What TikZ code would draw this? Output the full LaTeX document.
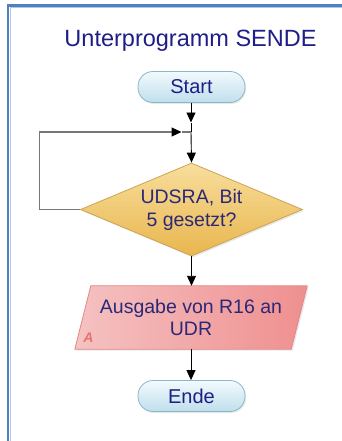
\documentclass[tikz,border=0pt]{standalone}
\usepackage{fontspec}
\setmainfont{Liberation Sans}
\usetikzlibrary{shapes.geometric,arrows.meta,shadows}

\definecolor{frameblue}{HTML}{4F81BD}
\definecolor{framelight}{HTML}{AFC8EA}
\definecolor{titleink}{HTML}{1E1E86}
\definecolor{bodyink}{HTML}{2C2878}
\definecolor{termtop}{HTML}{F2FAFD}
\definecolor{termbot}{HTML}{BFDFEC}
\definecolor{termedge}{HTML}{8DB6CB}
\definecolor{dectop}{HTML}{F8DE9C}
\definecolor{decbot}{HTML}{E8B64E}
\definecolor{decedge}{HTML}{CDA352}
\definecolor{iolight}{HTML}{F5C2C2}
\definecolor{iodark}{HTML}{EF8F8F}
\definecolor{ioedge}{HTML}{E58585}
\definecolor{ioletter}{HTML}{E67272}
\definecolor{loopgray}{HTML}{767676}

\pgfdeclarelayer{background}
\pgfsetlayers{background,main}

\tikzset{
  tip/.tip={Triangle[width=9pt,length=10pt,color=black]},
  terminal/.style={rectangle, rounded corners=15pt, minimum width=107pt,
    minimum height=31pt, inner sep=0pt, draw=termedge, line width=0.8pt,
    top color=termtop, bottom color=termbot, text=titleink,
    font=\fontsize{20}{24}\selectfont,
    drop shadow={opacity=0.18, shadow xshift=1pt, shadow yshift=-1.5pt}},
  decision/.style={diamond, aspect=2.4, inner sep=0pt, minimum width=222pt,
    minimum height=93pt, draw=decedge, line width=0.8pt,
    top color=dectop, bottom color=decbot, text=bodyink, align=center,
    font=\fontsize{19.5}{23}\selectfont,
    drop shadow={opacity=0.18, shadow xshift=1.5pt, shadow yshift=-1.5pt}},
  iotext/.style={rectangle, minimum width=200pt, minimum height=63pt,
    inner sep=0pt, text=bodyink, align=center,
    font=\fontsize{19.5}{22.5}\selectfont},
  iobox/.style={draw=ioedge, line width=0.8pt, left color=iolight,
    right color=iodark,
    drop shadow={opacity=0.18, shadow xshift=1.5pt, shadow yshift=-1.5pt}},
  flow/.style={draw=black, line width=0.9pt, -tip},
  plainflow/.style={draw=black, line width=0.9pt},
  loopflow/.style={draw=loopgray, line width=1.1pt},
}

\begin{document}
\begin{tikzpicture}[x=1pt, y=-1pt]
  \useasboundingbox (0,0) rectangle (342,441);

  % title
  \node[text=titleink, font=\fontsize{23.5}{28}\selectfont] (title)
    at (190.5,41) {Unterprogramm SENDE};

  % flow elements
  \node[terminal] (start) at (191.5,87) {Start};
  \coordinate (join) at (191,132);
  \coordinate (starttip) at (191,122.5);
  \coordinate (looptip) at (181.5,132);
  \node[decision] (check) at (191.5,209.5) {UDSRA, Bit\\5 gesetzt?};
  \node[iotext] (send) at (191,317.5) {Ausgabe von R16 an\\UDR};
  \node[terminal] (stop) at (191.5,396) {Ende};

  % page, frame and output parallelogram behind the text
  \begin{pgfonlayer}{background}
    \fill[white] (0,0) rectangle (342,441);
    \draw[framelight, line width=1pt] (10,441) -- (10,7.5) -- (342,7.5);
    \draw[frameblue, line width=2.2pt] (8,441) -- (8,5.5) -- (342,5.5);
    \path[iobox] (send.north west) -- ([xshift=16pt]send.north east)
      -- (send.south east) -- ([xshift=-16pt]send.south west) -- cycle;
  \end{pgfonlayer}
  \node[text=ioletter, font=\bfseries\itshape\fontsize{14}{14}\selectfont]
    (tag) at (88.5,338) {A};

  % connectors
  \draw[flow] (start.south -| starttip) -- (starttip);
  \draw[plainflow] (starttip) -- (join);
  \draw[flow] (join) -- (check.north);
  \draw[loopflow] (looptip) -- (join);
  \draw[loopflow, -tip] (check.west) -- ++(-40.5,0) |- (looptip);
  \draw[flow] (check.south) -- (send.north -| check.south);
  \draw[flow] (send.south) -- (stop.north -| send.south);
\end{tikzpicture}
\end{document}
